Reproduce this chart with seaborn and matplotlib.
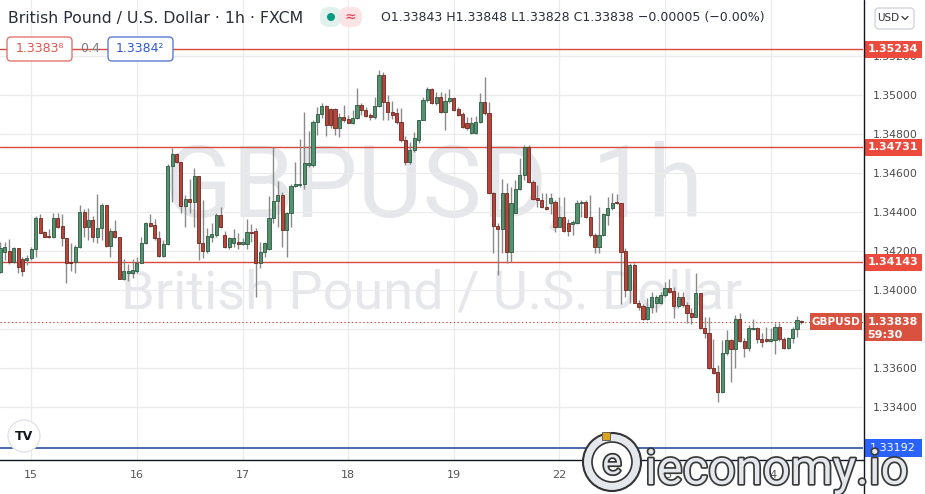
import matplotlib
matplotlib.use("Agg")
import numpy as np
import pandas as pd
import matplotlib.pyplot as plt
import seaborn as sns
from matplotlib.patches import Rectangle, FancyBboxPatch, Circle
from matplotlib.lines import Line2D
from matplotlib.transforms import IdentityTransform
from matplotlib.ticker import FuncFormatter
import matplotlib.patheffects as pe

# ---------------- data (GBPUSD, 1h candles) ----------------
opens = [
    1.34094, 1.34197, 1.34202, 1.34146, 1.34214, 1.34158, 1.34154, 1.34163, 1.34209, 1.34371,
    1.34298, 1.34277, 1.34270, 1.34368, 1.34329, 1.34265, 1.34146, 1.34142, 1.34219, 1.34400,
    1.34325, 1.34359, 1.34274, 1.34317, 1.34436, 1.34226, 1.34303, 1.34270, 1.34058, 1.34086,
    1.34086, 1.34099, 1.34141, 1.34240, 1.34346, 1.34335, 1.34265, 1.34176, 1.34236, 1.34636,
    1.34696, 1.34658, 1.34431, 1.34465, 1.34453, 1.34585, 1.34243, 1.34202, 1.34274, 1.34282,
    1.34385, 1.34282, 1.34223, 1.34240, 1.34248, 1.34234, 1.34234, 1.34299, 1.34303, 1.34137,
    1.34197, 1.34209, 1.34368, 1.34458, 1.34487, 1.34308, 1.34394, 1.34534, 1.34537, 1.34544,
    1.34639, 1.34639, 1.34863, 1.34903, 1.34945, 1.34927, 1.34927, 1.34829, 1.34886, 1.34876,
    1.34858, 1.34881, 1.34949, 1.34923, 1.34898, 1.34886, 1.34944, 1.35103, 1.34966, 1.34915,
    1.34906, 1.34863, 1.34769, 1.34658, 1.34718, 1.34769, 1.34872, 1.34974, 1.35029, 1.34957,
    1.34988, 1.34915, 1.34971, 1.34983, 1.34927, 1.34903, 1.34855, 1.34804, 1.34804, 1.34863,
    1.34966, 1.34906, 1.34496, 1.34329, 1.34311, 1.34496, 1.34197, 1.34397, 1.34516, 1.34590,
    1.34732, 1.34556, 1.34470, 1.34462, 1.34427, 1.34448, 1.34453, 1.34325, 1.34373, 1.34346,
    1.34339, 1.34346, 1.34445, 1.34453, 1.34373, 1.34282, 1.34219, 1.34282, 1.34385, 1.34419,
    1.34453, 1.34445, 1.34202, 1.34000, 1.34128, 1.33935, 1.33918, 1.33850, 1.33911, 1.33935,
    1.33935, 1.33975, 1.34009, 1.33997, 1.33918, 1.33963, 1.33923, 1.33880, 1.33863, 1.33983,
    1.33803, 1.33781, 1.33598, 1.33581, 1.33479, 1.33679, 1.33744, 1.33696, 1.33850, 1.33740,
    1.33701, 1.33800, 1.33803, 1.33747, 1.33747, 1.33740, 1.33744, 1.33812, 1.33747, 1.33701,
    1.33752, 1.33798, 1.33843,
]
highs = [
    1.34248, 1.34248, 1.34260, 1.34223, 1.34214, 1.34171, 1.34180, 1.34219, 1.34380, 1.34388,
    1.34304, 1.34311, 1.34394, 1.34394, 1.34390, 1.34265, 1.34243, 1.34231, 1.34434, 1.34414,
    1.34419, 1.34380, 1.34492, 1.34445, 1.34436, 1.34317, 1.34359, 1.34274, 1.34158, 1.34134,
    1.34158, 1.34168, 1.34274, 1.34351, 1.34390, 1.34363, 1.34304, 1.34257, 1.34646, 1.34727,
    1.34704, 1.34658, 1.34487, 1.34571, 1.34624, 1.34585, 1.34462, 1.34317, 1.34342, 1.34394,
    1.34427, 1.34304, 1.34274, 1.34311, 1.34294, 1.34265, 1.34363, 1.34339, 1.34317, 1.34248,
    1.34248, 1.34482, 1.34735, 1.34561, 1.34504, 1.34402, 1.34544, 1.34658, 1.34773, 1.34915,
    1.34817, 1.34872, 1.34940, 1.34957, 1.34949, 1.34932, 1.34932, 1.34906, 1.34949, 1.34898,
    1.34923, 1.35034, 1.34957, 1.34940, 1.34909, 1.34992, 1.35128, 1.35120, 1.35000, 1.34971,
    1.34932, 1.34932, 1.34790, 1.34761, 1.34812, 1.34872, 1.34992, 1.35039, 1.35034, 1.35017,
    1.35017, 1.35009, 1.35029, 1.34988, 1.34940, 1.34915, 1.34889, 1.34889, 1.34893, 1.35009,
    1.35094, 1.34966, 1.34504, 1.34342, 1.34568, 1.34547, 1.34530, 1.34564, 1.34675, 1.34744,
    1.34744, 1.34564, 1.34539, 1.34499, 1.34496, 1.34499, 1.34462, 1.34479, 1.34479, 1.34363,
    1.34359, 1.34462, 1.34462, 1.34462, 1.34487, 1.34291, 1.34427, 1.34397, 1.34475, 1.34496,
    1.34492, 1.34448, 1.34214, 1.34137, 1.34137, 1.33949, 1.33928, 1.33957, 1.33991, 1.33975,
    1.33991, 1.34043, 1.34055, 1.34017, 1.33991, 1.33991, 1.33940, 1.33906, 1.34089, 1.33986,
    1.33863, 1.33860, 1.33747, 1.33616, 1.33744, 1.33795, 1.33747, 1.33872, 1.33880, 1.33752,
    1.33821, 1.33850, 1.33812, 1.33778, 1.33812, 1.33803, 1.33832, 1.33832, 1.33761, 1.33761,
    1.33812, 1.33867, 1.33848,
]
lows = [
    1.34086, 1.34154, 1.34134, 1.34137, 1.34086, 1.34072, 1.34129, 1.34154, 1.34168, 1.34291,
    1.34270, 1.34269, 1.34265, 1.34317, 1.34226, 1.34035, 1.34099, 1.34086, 1.34214, 1.34274,
    1.34257, 1.34248, 1.34240, 1.34257, 1.34223, 1.34171, 1.34265, 1.34055, 1.34052, 1.34048,
    1.34060, 1.34086, 1.34137, 1.34236, 1.34325, 1.34257, 1.34171, 1.34171, 1.34231, 1.34453,
    1.34650, 1.34397, 1.34325, 1.34394, 1.34325, 1.34154, 1.34163, 1.34192, 1.34248, 1.34274,
    1.34317, 1.34214, 1.34209, 1.34223, 1.34209, 1.34231, 1.34209, 1.34248, 1.33966, 1.34111,
    1.34171, 1.34205, 1.34342, 1.34325, 1.34223, 1.34168, 1.34325, 1.34530, 1.34530, 1.34516,
    1.34633, 1.34633, 1.34795, 1.34881, 1.34790, 1.34829, 1.34795, 1.34783, 1.34863, 1.34855,
    1.34851, 1.34876, 1.34898, 1.34889, 1.34872, 1.34876, 1.34940, 1.34872, 1.34872, 1.34876,
    1.34851, 1.34761, 1.34641, 1.34646, 1.34710, 1.34752, 1.34872, 1.34966, 1.34954, 1.34949,
    1.34906, 1.34821, 1.34961, 1.34920, 1.34893, 1.34829, 1.34821, 1.34800, 1.34800, 1.34855,
    1.34898, 1.34492, 1.34188, 1.34077, 1.34188, 1.34141, 1.34146, 1.34394, 1.34513, 1.34564,
    1.34547, 1.34462, 1.34427, 1.34419, 1.34410, 1.34390, 1.34299, 1.34322, 1.34299, 1.34277,
    1.34282, 1.34339, 1.34376, 1.34368, 1.34274, 1.34192, 1.34192, 1.34277, 1.34334, 1.34410,
    1.34441, 1.33930, 1.33966, 1.33935, 1.33932, 1.33898, 1.33846, 1.33846, 1.33880, 1.33889,
    1.33928, 1.33966, 1.33986, 1.33855, 1.33906, 1.33915, 1.33829, 1.33826, 1.33860, 1.33798,
    1.33752, 1.33593, 1.33569, 1.33428, 1.33470, 1.33667, 1.33530, 1.33598, 1.33735, 1.33658,
    1.33689, 1.33795, 1.33726, 1.33709, 1.33735, 1.33735, 1.33672, 1.33740, 1.33697, 1.33696,
    1.33730, 1.33761, 1.33828,
]
closes = [
    1.34214, 1.34219, 1.34142, 1.34214, 1.34120, 1.34099, 1.34164, 1.34209, 1.34371, 1.34294,
    1.34274, 1.34270, 1.34368, 1.34325, 1.34265, 1.34137, 1.34139, 1.34219, 1.34400, 1.34325,
    1.34359, 1.34274, 1.34317, 1.34436, 1.34226, 1.34303, 1.34270, 1.34058, 1.34096, 1.34099,
    1.34103, 1.34141, 1.34240, 1.34342, 1.34330, 1.34265, 1.34176, 1.34236, 1.34636, 1.34696,
    1.34658, 1.34431, 1.34465, 1.34453, 1.34585, 1.34243, 1.34202, 1.34277, 1.34287, 1.34385,
    1.34325, 1.34223, 1.34265, 1.34265, 1.34236, 1.34248, 1.34299, 1.34291, 1.34137, 1.34197,
    1.34243, 1.34368, 1.34458, 1.34487, 1.34308, 1.34394, 1.34534, 1.34542, 1.34544, 1.34650,
    1.34650, 1.34863, 1.34903, 1.34945, 1.34846, 1.34846, 1.34829, 1.34889, 1.34872, 1.34858,
    1.34881, 1.34949, 1.34923, 1.34893, 1.34886, 1.34944, 1.35103, 1.34966, 1.34915, 1.34898,
    1.34863, 1.34769, 1.34658, 1.34718, 1.34778, 1.34872, 1.34974, 1.35029, 1.34957, 1.34988,
    1.34915, 1.34971, 1.34983, 1.34923, 1.34898, 1.34838, 1.34829, 1.34855, 1.34863, 1.34966,
    1.34906, 1.34496, 1.34329, 1.34311, 1.34496, 1.34197, 1.34445, 1.34516, 1.34590, 1.34732,
    1.34556, 1.34465, 1.34462, 1.34427, 1.34414, 1.34470, 1.34325, 1.34373, 1.34304, 1.34304,
    1.34351, 1.34448, 1.34453, 1.34373, 1.34282, 1.34219, 1.34282, 1.34390, 1.34419, 1.34448,
    1.34445, 1.34197, 1.34000, 1.34128, 1.33935, 1.33915, 1.33850, 1.33915, 1.33966, 1.33966,
    1.33975, 1.34009, 1.33991, 1.33918, 1.33963, 1.33923, 1.33880, 1.33863, 1.33983, 1.33803,
    1.33781, 1.33598, 1.33576, 1.33479, 1.33679, 1.33744, 1.33696, 1.33850, 1.33740, 1.33701,
    1.33803, 1.33807, 1.33747, 1.33735, 1.33737, 1.33747, 1.33812, 1.33747, 1.33701, 1.33752,
    1.33798, 1.33846, 1.33838,
]
day_labels = ["15", "16", "17", "18", "19", "22", "23", "24"]
day_start = [7, 31, 55, 79, 103, 127, 151, 175]
price_ticks = [1.334, 1.336, 1.338, 1.340, 1.342, 1.344, 1.346, 1.348, 1.350, 1.352]
red_levels = [1.35234, 1.34731, 1.34143]
blue_level = 1.33192
last_price = 1.33838
countdown = "59:30"
symbol = "GBPUSD"
title = "British Pound / U.S. Dollar · 1h · FXCM"
ohlc_text = "O1.33843 H1.33848 L1.33828 C1.33838 \u22120.00005 (\u22120.00%)"
bid_txt, spread_txt, ask_txt = "1.3383\u2078", "0.4", "1.3384\u00b2"

# ---------------- style ----------------
sns.set_theme(style="white")
plt.rcParams['font.family'] = ['DejaVu Sans']

W, H = 925, 494
fig = plt.figure(figsize=(W / 100, H / 100), dpi=100)
fig.patch.set_facecolor("white")
ax = fig.add_axes([0, 1 - 460 / H, 863 / W, 460 / H])
ax.set_facecolor("white")
ax.set_xlim(-0.11, 196.0)
ax.set_ylim(1.331282, 1.354872)

def P(px, py):
    return (px, H - py)

ID = IdentityTransform()

df = pd.DataFrame({"open": opens, "high": highs, "low": lows, "close": closes})
df["idx"] = np.arange(len(df))
df["up"] = df["close"] >= df["open"]
df["body_low"] = df[["open", "close"]].min(axis=1)
df["body_h"] = (df["close"] - df["open"]).abs().clip(lower=0.00004)

# grid
ax.set_yticks(price_ticks)
ax.set_xticks(day_start)
ax.set_xticklabels(day_labels)
# the tick label hidden behind the last-price box is left blank
ax.yaxis.set_major_formatter(FuncFormatter(
    lambda v, p: "" if abs(v - last_price) < 0.0006 else f"{v:.5f}"))
ax.grid(True, color="#ebebeb", lw=0.9, zorder=0)
ax.set_axisbelow(True)

# watermark
wm_col = "#e6e7eb"
ax.text(433 / W, 1 - 217 / H, "GBPUSD, 1h", transform=fig.transFigure, ha="center",
        va="baseline", fontsize=72, color=wm_col, zorder=0.5,
        family=["Roboto", "DejaVu Sans"])
ax.text(432 / W, 1 - 308 / H, "British Pound / U.S. Dollar", transform=fig.transFigure,
        ha="center", va="baseline", fontsize=39, color=wm_col, zorder=0.5,
        family=["Roboto", "DejaVu Sans"])

# level lines
for lv in red_levels:
    ax.axhline(lv, color="#d9493e", lw=1.0, zorder=2)
ax.axhline(blue_level, color="#3d5fa8", lw=1.3, zorder=2)
ax.axhline(last_price, color="#d9493e", lw=0.8, ls=(0, (1.2, 2.2)), zorder=2)

# candles
ax.vlines(df["idx"], df["low"], df["high"], color="#8a8a8a", lw=1.0, zorder=3)
up = df[df["up"]]
dn = df[~df["up"]]
ax.bar(up["idx"], up["body_h"], bottom=up["body_low"], width=0.72,
       color="#55916f", edgecolor="#2a5840", linewidth=0.6, zorder=4)
ax.bar(dn["idx"], dn["body_h"], bottom=dn["body_low"], width=0.72,
       color="#b6463b", edgecolor="#6e261f", linewidth=0.6, zorder=4)

# spines & ticks
for s in ["top", "left"]:
    ax.spines[s].set_visible(False)
ax.spines["bottom"].set_color("#131722")
ax.spines["bottom"].set_linewidth(1.0)
ax.spines["right"].set_visible(False)
ax.yaxis.tick_right()
ax.tick_params(axis="y", length=0, pad=7, labelsize=7.8, labelcolor="#4a4a4a")
ax.tick_params(axis="x", length=0, pad=7, labelsize=8, labelcolor="#555555")
fig.add_artist(Line2D([863.5, 863.5], [0, H], transform=ID, color="#131722", lw=1.0))

fig.canvas.draw()

def ypx(v):
    return ax.transData.transform((0, v))[1]

# right price labels
for lv in red_levels:
    yy = ypx(lv)
    fig.add_artist(Rectangle((864, yy - 8.5), 58, 17, transform=ID, fc="#ec4a3c", ec="none"))
    fig.text(893 / W, yy / H, f"{lv:.5f}", ha="center", va="center", fontsize=8,
             color="white", fontweight="bold")
yy = ypx(last_price)
fig.add_artist(Rectangle((864, yy - 19.5), 58, 28, transform=ID, fc="#d9523f", ec="none"))
fig.text(893 / W, yy / H, f"{last_price:.5f}", ha="center", va="center", fontsize=8,
         color="white", fontweight="bold")
fig.text(885 / W, (yy - 13.5) / H, countdown, ha="center", va="center", fontsize=8,
         color="white", fontweight="bold")
fig.add_artist(Rectangle((810, yy - 8.5), 52, 17, transform=ID, fc="#d9523f", ec="none"))
fig.text(836 / W, yy / H, symbol, ha="center", va="center", fontsize=7.5,
         color="white", fontweight="bold")
yy = ypx(blue_level)
fig.add_artist(Rectangle((864, yy - 9), 58, 18, transform=ID, fc="#2962ff", ec="none"))
fig.text(893 / W, yy / H, f"{blue_level:.5f}", ha="center", va="center", fontsize=8,
         color="white")

# header
fig.text(8 / W, 1 - 18 / H, title, ha="left", va="center", fontsize=11.3, color="#2a2e39")
fig.add_artist(FancyBboxPatch(P(320, 27), 21, 20, boxstyle="round,pad=0,rounding_size=9",
                              transform=ID, fc="#e3f1ec", ec="none"))
fig.add_artist(FancyBboxPatch(P(339, 27), 23, 20, boxstyle="round,pad=0,rounding_size=9",
                              transform=ID, fc="#fbe3e6", ec="none"))
fig.add_artist(Circle(P(331, 17), 4, transform=ID, fc="#089981", ec="none"))
fig.text(350 / W, 1 - 17 / H, "\u2248", ha="center", va="center", fontsize=10, color="#f23645")
fig.text(381 / W, 1 - 18 / H, ohlc_text, ha="left", va="center", fontsize=9.0, color="#2a2e39")

fig.add_artist(FancyBboxPatch(P(7, 61), 65, 24, boxstyle="round,pad=0,rounding_size=4",
                              transform=ID, fc="white", ec="#e0776d", lw=1))
fig.text(40 / W, 1 - 49 / H, bid_txt, ha="center", va="center", fontsize=9, color="#e0554b")
fig.text(90 / W, 1 - 49 / H, spread_txt, ha="center", va="center", fontsize=9, color="#787b86")
fig.add_artist(FancyBboxPatch(P(108, 61), 65, 24, boxstyle="round,pad=0,rounding_size=4",
                              transform=ID, fc="white", ec="#5b7fd6", lw=1))
fig.text(140 / W, 1 - 49 / H, ask_txt, ha="center", va="center", fontsize=9, color="#3059c9")

fig.add_artist(FancyBboxPatch(P(875, 29), 39, 21, boxstyle="round,pad=0,rounding_size=4",
                              transform=ID, fc="white", ec="#d1d4dc", lw=1))
fig.text(888 / W, 1 - 18 / H, "USD", ha="center", va="center", fontsize=7.5, color="#333333")
fig.add_artist(Line2D([902, 905, 908], [H - 16.5, H - 19.5, H - 16.5], transform=ID,
                      color="#333333", lw=0.9))

# TradingView logo
fig.add_artist(Circle(P(24, 436), 16, transform=ID, fc="white", ec="#e0e3eb", lw=1))
fig.text(24 / W, 1 - 436 / H, "TV", ha="center", va="center", fontsize=9,
         fontweight="bold", color="#131722")

# ieconomy watermark
fig.add_artist(Circle(P(612, 462), 29, transform=ID, fc="#e4e7ec", ec="#333333", lw=1.5))
fig.add_artist(Circle(P(612, 462), 20, transform=ID, fc="white", ec="#333333", lw=1.2))
fig.add_artist(Rectangle(P(602, 440), 8, 8, transform=ID, fc="#d9a520", ec="#555555", lw=0.6))
fig.text(612 / W, 1 - 464 / H, "e", ha="center", va="center", fontsize=26, color="#e4e7ec",
         family=["Roboto", "DejaVu Sans"],
         path_effects=[pe.withStroke(linewidth=2.5, foreground="#333333")])
fig.text(645 / W, 1 - 484 / H, "ieconomy.io", ha="left", va="baseline", fontsize=35,
         color="#e4e7ec", family=["Roboto", "DejaVu Sans"],
         path_effects=[pe.withStroke(linewidth=2.5, foreground="#3a3a3a")])

fig.savefig("out.png", dpi=100)
